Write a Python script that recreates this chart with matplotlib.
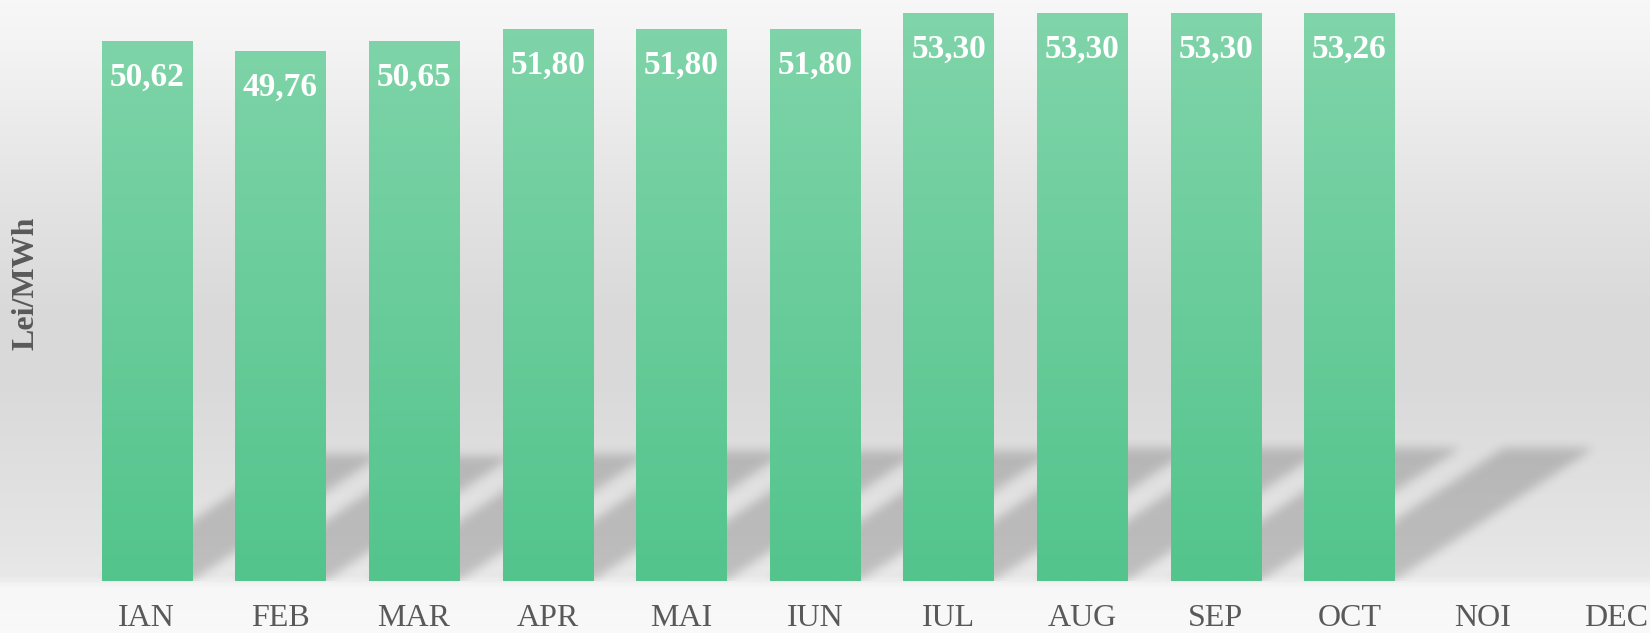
import numpy as np
import matplotlib.pyplot as plt
from matplotlib.colors import LinearSegmentedColormap

plt.rcParams['font.family'] = ['Liberation Serif', 'DejaVu Serif']

# data
months = ['IAN', 'FEB', 'MAR', 'APR', 'MAI', 'IUN', 'IUL', 'AUG', 'SEP', 'OCT', 'NOI', 'DEC']
values = [50.62, 49.76, 50.65, 51.80, 51.80, 51.80, 53.30, 53.30, 53.30, 53.26]
value_labels = [f"{v:.2f}".replace('.', ',') for v in values]

bar_w = 0.674
ymax = 54.5
xlo, xhi = -0.5, 11.25
text_grey = '#595959'

fig = plt.figure(figsize=(16.5, 6.33), dpi=100)

# background gradient (top -> bottom)
bg = fig.add_axes([0, 0, 1, 1], zorder=0)
bg_cmap = LinearSegmentedColormap.from_list('bg', [
    (0.0, '#f7f7f7'), (0.08, '#f3f3f3'), (0.3, '#e4e4e4'), (0.5, '#d9d9d9'),
    (0.62, '#dadada'), (0.85, '#e4e4e4'), (0.912, '#e8e8e8'),
    (0.93, '#f7f7f7'), (1.0, '#f9f9f9')])
bg.imshow(np.linspace(0, 1, 633).reshape(-1, 1), cmap=bg_cmap, aspect='auto',
          extent=[0, 1, 0, 1], origin='upper', vmin=0, vmax=1)
bg.set_axis_off()

ax = fig.add_axes([80 / 1650, 52 / 633, 1570 / 1650, 581 / 633], zorder=1)
ax.set_facecolor('none')
ax.set_xlim(xlo, xhi)
ax.set_ylim(0, ymax)

x = np.arange(len(values))

# skewed, blurred shadows behind the bars
nx, ny = 1570, 581
X, Y = np.meshgrid(np.linspace(xlo, xhi, nx), np.linspace(0, ymax, ny))
ky, kx = 0.2343, 0.0281
mask = np.zeros_like(X)
for xi, v in zip(x, values):
    t = Y / (ky * v)
    shift = t * kx * v
    inside = (t <= 1) & (X >= xi - bar_w / 2 + shift) & (X <= xi + bar_w / 2 + shift)
    mask[inside] = 1.0
g = np.exp(-0.5 * (np.arange(-15, 16) / 5.0) ** 2)
g /= g.sum()
mask = np.apply_along_axis(lambda r: np.convolve(r, g, mode='same'), 1, mask)
mask = np.apply_along_axis(lambda c: np.convolve(c, g, mode='same'), 0, mask)
shadow = np.zeros((ny, nx, 4))
shadow[..., 3] = mask * 0.18
ax.imshow(shadow, extent=[xlo, xhi, 0, ymax], origin='lower', aspect='auto',
          zorder=1, interpolation='bilinear')

# bars with vertical green gradient
bars = ax.bar(x, values, width=bar_w, color='none', edgecolor='none', zorder=2)
bar_cmap = LinearSegmentedColormap.from_list('bar', ['#53c48c', '#81d5aa'])
grad = np.linspace(0, 1, 256).reshape(-1, 1)
for patch in bars.patches:
    im = ax.imshow(grad, cmap=bar_cmap, extent=[xlo, xhi, 0, ymax], origin='lower',
                   aspect='auto', zorder=2)
    im.set_clip_path(patch)

for xi, v, lab in zip(x, values, value_labels):
    ax.text(xi, v - 4.2, lab, ha='center', va='baseline', color='white',
            fontsize=24, fontweight='bold', zorder=3)

ax.set_xticks(range(len(months)), months)
ax.tick_params(axis='x', length=0, pad=16.5, labelsize=23, labelcolor=text_grey)
ax.set_yticks([])
for s in ax.spines.values():
    s.set_visible(False)

fig.text(26 / 1650, 1 - 283 / 633, 'Lei/MWh', rotation=90, ha='center', va='center',
         fontsize=23, fontweight='bold', color=text_grey)

fig.savefig('out.png', dpi=100)
